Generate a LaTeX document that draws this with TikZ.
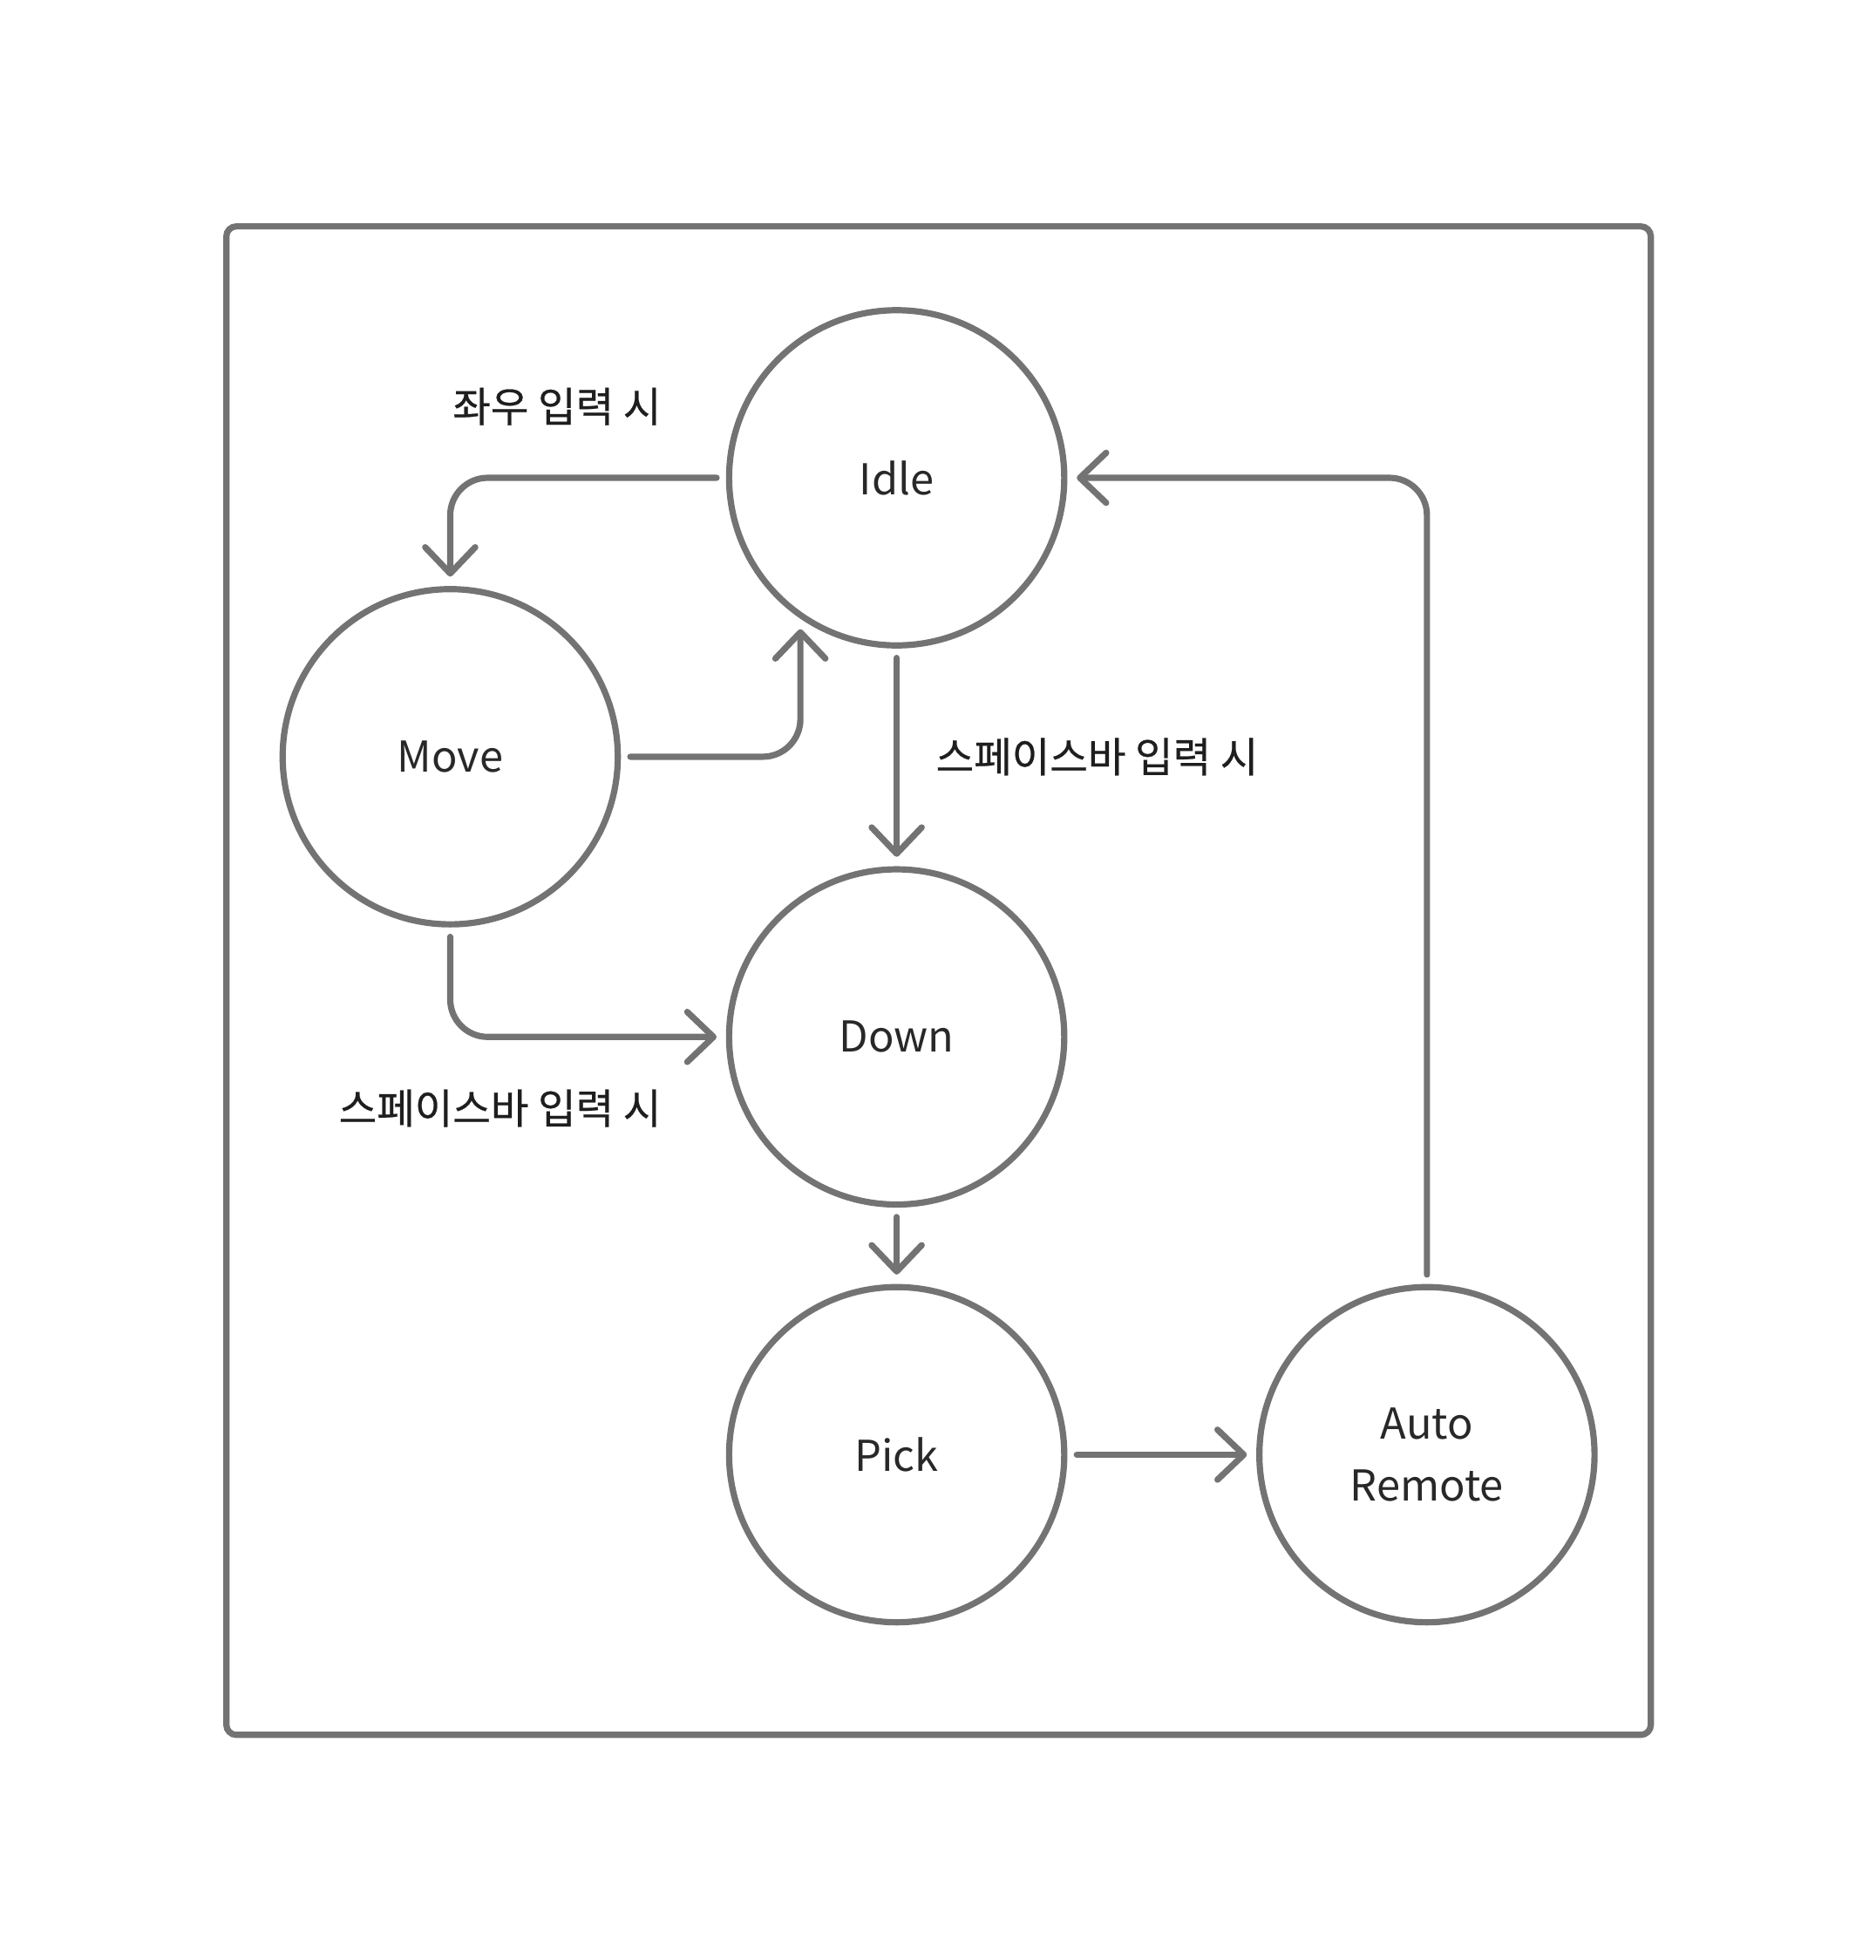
\documentclass[tikz,border=0pt]{standalone}
\usepackage{fontspec}
\setmainfont{Noto Sans CJK KR}
\newfontfamily\kfont[FakeBold=0.5]{Noto Sans CJK KR}
\usetikzlibrary{arrows.meta}
\definecolor{linegray}{RGB}{115,115,115}
\definecolor{txt}{RGB}{40,40,40}
\definecolor{ktxt}{RGB}{30,30,30}
\tikzset{
  state/.style={circle, draw=linegray, line width=2.5pt, minimum size=134pt, inner sep=0pt, outer sep=5pt, text=txt, font=\fontsize{17pt}{25pt}\selectfont, align=center},
  conn/.style={draw=linegray, line width=2.5pt, line cap=round, line join=round, rounded corners=15pt, -{Straight Barb[length=10.5pt, width=20pt, line width=2.5pt, round]}},
  lbl/.style={text=ktxt, font=\kfont\fontsize{16.5pt}{25pt}\selectfont, inner sep=0pt}
}
\begin{document}
\begin{tikzpicture}[x=0.5pt, y=-0.5pt]
\useasboundingbox (0,0) rectangle (1500,1567);
\draw[draw=linegray, line width=2.5pt, rounded corners=4pt] (181,181) rectangle (1320,1387);
\node[state] (idle) at (717,382) {Idle};
\node[state] (move) at (360,605) {Move};
\node[state] (down) at (717,829) {Down};
\node[state] (pick) at (717,1163) {Pick};
\node[state] (auto) at (1141,1163) {Auto\\Remote};
\coordinate (mi) at (640,503);
\draw[conn] (idle.west) -| (move.north);
\draw[conn] (move.east) -| (mi);
\draw[conn] (idle.south) -- (down.north);
\draw[conn] (move.south) |- (down.west);
\draw[conn] (down.south) -- (pick.north);
\draw[conn] (pick.east) -- (auto.west);
\draw[conn] (auto.north) |- (idle.east);
\node[lbl, anchor=east] (l1) at (529,325) {좌우 입력 시};
\node[lbl, anchor=west] (l2) at (748,605) {스페이스바 입력 시};
\node[lbl, anchor=east] (l3) at (529,886) {스페이스바 입력 시};
\end{tikzpicture}
\end{document}
